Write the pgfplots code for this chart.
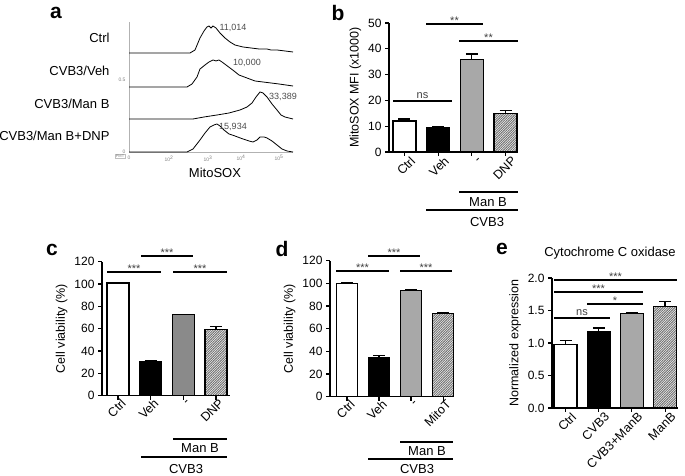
\documentclass[border=0pt]{standalone}
\usepackage{fontspec}
\setmainfont{Liberation Sans}
\usepackage{pgfplots}
\pgfplotsset{compat=1.18}
\usetikzlibrary{patterns}
\newcommand{\fs}[1]{\fontsize{#1}{#1}\selectfont}
\pgfdeclarepatternformonly{densehatch}{\pgfqpoint{-0.5pt}{-0.5pt}}{\pgfqpoint{3pt}{3pt}}{\pgfqpoint{2.4pt}{2.4pt}}{%
  \pgfsetlinewidth{0.6pt}%
  \pgfpathmoveto{\pgfqpoint{-0.2pt}{-0.2pt}}%
  \pgfpathlineto{\pgfqpoint{2.6pt}{2.6pt}}%
  \pgfusepath{stroke}}
\definecolor{mgray}{HTML}{A8A8A8}
\definecolor{dgray}{HTML}{8A8A8A}
\pgfplotsset{
  barpanel/.style={scale only axis, anchor=south west, axis x line=bottom, axis y line=left,
    axis line style={-, line width=1.2pt}, ymin=0, xtick={0,1,2,3},
    tick align=outside, major tick length=4pt, tick style={line width=1.1pt, black},
    xticklabel style={rotate=45, anchor=east, font=\fs{12.5}, inner sep=1pt},
    yticklabel style={font=\fs{12}},
    ylabel style={font=\fs{12.5}},
    /pgf/number format/assume math mode=true, clip=false},
  mybar/.style={ybar, bar shift=0pt, bar width=#1, draw=black, line width=1.3pt,
    error bars/y dir=plus, error bars/y explicit,
    error bars/error mark=|,
    error bars/error bar style={line width=1.2pt, black},
    error bars/error mark options={line width=1.2pt, black, mark size=6pt}},
}
\begin{document}
\begin{tikzpicture}
\useasboundingbox (0,0) rectangle (685pt,476pt);
% ---------------- panel a ----------------
\begin{axis}[scale only axis, anchor=south west, at={(129pt,324pt)}, width=164pt, height=130pt,
  xmin=0, xmax=164, ymin=0, ymax=130, axis x line=bottom, axis y line=left,
  axis line style={-, gray!60, line width=0.5pt},
  xtick={0,40,79,112,150}, xticklabels={0,10\textsuperscript{2},10\textsuperscript{3},10\textsuperscript{4},10\textsuperscript{5}},
  ytick={0,72}, yticklabels={0,0.5}, major tick length=0pt,
  tick label style={font=\fs{5}, text=gray}, clip=false]
\addplot[black, line width=0.8pt] coordinates {(0,99) (61,99) (66,102) (71,114) (75,121) (78,125) (80,126) (82,124) (84,126) (87,124) (91,119) (96,114) (101,110) (106,107) (114,105) (122,104) (130,103) (138,103) (142,102) (148,102) (156,101) (164,100)};
\addplot[black, line width=0.8pt] coordinates {(0,65) (58,65) (63,68) (68,75) (71,83) (76,87) (80,90) (84,92) (87,91) (90,92) (93,90) (97,87) (101,84) (105,81) (110,77) (118,74) (126,71) (134,70) (142,69) (150,68) (164,66)};
\addplot[black, line width=0.8pt] coordinates {(0,33) (64,33) (75,35) (88,37) (100,39) (111,42) (118,45) (123,49) (127,55) (131,60) (134,59) (138,55) (143,48) (148,42) (152,37) (156,35) (164,33)};
\addplot[black, line width=0.8pt] coordinates {(0,0) (58,0) (64,3) (71,12) (76,19) (81,25) (85,27) (88,28) (91,26) (95,22) (100,18) (106,16) (114,13) (120,11) (124,10) (128,12) (131,15) (135,15) (138,14) (143,11) (148,7) (153,3) (158,1) (164,0)};
\node[font=\fs{9}, text=black!70] at (axis cs:104,124) {11,014};
\node[font=\fs{9}, text=black!70] at (axis cs:118,89) {10,000};
\node[font=\fs{9}, text=black!70] at (axis cs:154,55) {33,389};
\node[font=\fs{9}, text=black!70] at (axis cs:104,25) {15,934};
\end{axis}
\begin{scope}[x=1pt,y=1pt]
\node[anchor=east, font=\fs{13}] at (113,438) {Ctrl};
\node[anchor=east, font=\fs{13}] at (113,405) {CVB3/Veh};
\node[anchor=east, font=\fs{13}] at (113,372) {CVB3/Man B};
\node[anchor=east, font=\fs{13}] at (113,340) {CVB3/Man B+DNP};
\node[font=\fs{13}] at (215,303) {MitoSOX};
\node[draw=gray!50, font=\fs{4}, text=gray, inner sep=0.8pt] at (120,320) {PMT};
\node[font=\bfseries\fs{21}] at (56,463) {a};
\node[font=\bfseries\fs{21}] at (338,463) {b};
\node[font=\bfseries\fs{21}] at (52,226) {c};
\node[font=\bfseries\fs{21}] at (282,227) {d};
\node[font=\bfseries\fs{21}] at (502,227) {e};
\end{scope}
% ---------------- panel b ----------------
\begin{axis}[barpanel, at={(389pt,324pt)}, width=129pt, height=129pt, xmin=-0.46, xmax=3.37,
  ymax=50, ytick={0,10,20,30,40,50}, xticklabels={Ctrl,Veh,-,DNP}, ylabel={MitoSOX MFI (x1000)},
  xticklabel style={xshift=5pt, yshift=-8pt}]
\addplot[mybar=23pt, fill=white] coordinates {(0,12) +- (0,0.8)};
\addplot[mybar=23pt, fill=black] coordinates {(1,9.6) +- (0,0.4)};
\addplot[mybar=23pt, fill=mgray] coordinates {(2,35.8) +- (0,2.2)};
\addplot[mybar=23pt, fill=gray!22, postaction={pattern=densehatch, pattern color=black!60}] coordinates {(3,14.8) +- (0,1.3)};
\end{axis}
% ---------------- panel c ----------------
\begin{axis}[barpanel, at={(102pt,80.3pt)}, width=128pt, height=134pt, xmin=-0.49, xmax=3.43,
  ymax=120, ytick={0,20,40,60,80,100,120}, xticklabels={Ctrl,Veh,-,DNP}, ylabel={Cell viability (\%)},
  xticklabel style={xshift=4pt, yshift=-5pt}]
\addplot[mybar=22pt, fill=white] coordinates {(0,101) +- (0,0.4)};
\addplot[mybar=22pt, fill=black] coordinates {(1,30.5) +- (0,1)};
\addplot[mybar=22pt, fill=dgray] coordinates {(2,72.5) +- (0,0.5)};
\addplot[mybar=22pt, fill=gray!22, postaction={pattern=densehatch, pattern color=black!60}] coordinates {(3,59.5) +- (0,2.5)};
\end{axis}
% ---------------- panel d ----------------
\begin{axis}[barpanel, at={(330pt,79.3pt)}, width=123pt, height=136pt, xmin=-0.53, xmax=3.31,
  ymax=120, ytick={0,20,40,60,80,100,120}, xticklabels={Ctrl,Veh,-,MitoT}, ylabel={Cell viability (\%)},
  xticklabel style={xshift=4pt, yshift=-5pt}]
\addplot[mybar=21.5pt, fill=white] coordinates {(0,100) +- (0,0.5)};
\addplot[mybar=21.5pt, fill=black] coordinates {(1,34.5) +- (0,1.5)};
\addplot[mybar=21.5pt, fill=mgray] coordinates {(2,93.5) +- (0,1)};
\addplot[mybar=21.5pt, fill=gray!22, postaction={pattern=densehatch, pattern color=black!60}] coordinates {(3,73.5) +- (0,1)};
\end{axis}
% ---------------- panel e ----------------
\begin{axis}[barpanel, at={(552pt,68pt)}, width=126pt, height=130pt, xmin=-0.41, xmax=3.39,
  ymax=2, ytick={0,0.5,1,1.5,2}, xticklabels={Ctrl,CVB3,CVB3+ManB,ManB}, ylabel={Normalized expression},
  yticklabel style={/pgf/number format/.cd, fixed, fixed zerofill, precision=1},
  xticklabel style={xshift=5pt, yshift=-8pt}]
\addplot[mybar=23pt, fill=white] coordinates {(0,0.975) +- (0,0.06)};
\addplot[mybar=23pt, fill=black] coordinates {(1,1.18) +- (0,0.05)};
\addplot[mybar=23pt, fill=mgray] coordinates {(2,1.45) +- (0,0.02)};
\addplot[mybar=23pt, fill=gray!22, postaction={pattern=densehatch, pattern color=black!60}] coordinates {(3,1.56) +- (0,0.08)};
\end{axis}
% ---------------- annotations ----------------
\begin{scope}[x=1pt,y=1pt, line width=1.1pt]
\tikzset{st/.style={anchor=base, font=\fs{11}, text=black!75, inner sep=0pt}}
% b
\draw (426,452) -- (483,452); \node[st] at (454.5,451) {**};
\draw (459,435) -- (518,435); \node[st] at (488.5,434) {**};
\draw (393,375) -- (452,375); \node[st] at (422.5,377) {ns};
\draw (459,284) -- (518,284); \node[font=\fs{13}] at (488,274) {Man B};
\draw (426,266) -- (518,266); \node[font=\fs{13}] at (487,254) {CVB3};
% c
\draw (107,204) -- (161,204); \node[st] at (134,203) {***};
\draw (141,220) -- (193,220); \node[st] at (167,219) {***};
\draw (173,204) -- (227,204); \node[st] at (200,203) {***};
\draw (173,37) -- (227,37); \node[font=\fs{13}] at (200,28) {Man B};
\draw (141,19) -- (227,19); \node[font=\fs{13}] at (186,7) {CVB3};
% d
\draw (336,205) -- (389,205); \node[st] at (362.5,204) {***};
\draw (368,220) -- (420,220); \node[st] at (394,219) {***};
\draw (400,205) -- (452,205); \node[st] at (426,204) {***};
\draw (400,34) -- (453,34); \node[font=\fs{13}] at (427,25) {Man B};
\draw (368,17) -- (453,17); \node[font=\fs{13}] at (417,7) {CVB3};
% e
\draw (554,158) -- (610,158); \node[st] at (582,160) {ns};
\draw (587,172) -- (643,172); \node[st] at (615,171) {*};
\draw (554,184) -- (643,184); \node[st] at (598.5,183) {***};
\draw (554,196) -- (677,196); \node[st] at (615.5,195) {***};
\node[font=\fs{13}] at (610,223) {Cytochrome C oxidase};
\end{scope}
\end{tikzpicture}
\end{document}
